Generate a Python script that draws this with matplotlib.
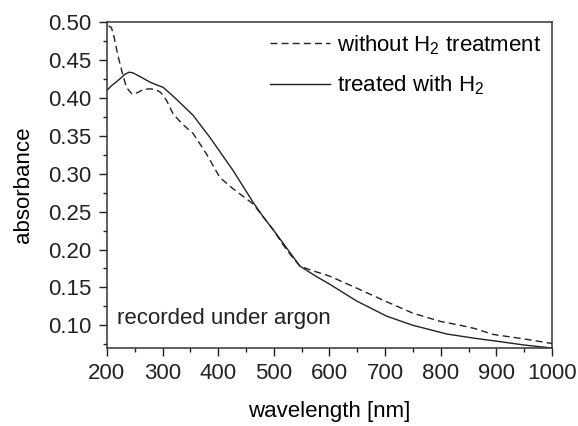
import matplotlib
matplotlib.use("Agg")
import matplotlib.pyplot as plt
from matplotlib.ticker import MultipleLocator

plt.rcParams["font.family"] = ["Liberation Sans", "DejaVu Sans"]
plt.rcParams["mathtext.fontset"] = "custom"
plt.rcParams["mathtext.rm"] = "Liberation Sans"
plt.rcParams["mathtext.it"] = "Liberation Sans"

# absorbance spectra
wl_untreated = [203, 208, 213, 220, 228, 235, 245, 255, 265, 277, 288, 297, 307,
                319, 335, 355, 379, 403, 427, 445, 463, 481, 500, 515, 530, 547,
                570, 600, 649, 700, 750, 800, 829, 860, 894, 950, 1000]
abs_untreated = [0.495, 0.493, 0.480, 0.455, 0.432, 0.414, 0.405, 0.407, 0.411,
                 0.412, 0.411, 0.407, 0.397, 0.379, 0.366, 0.353, 0.326, 0.295,
                 0.280, 0.270, 0.260, 0.243, 0.225, 0.208, 0.193, 0.178, 0.172,
                 0.165, 0.149, 0.132, 0.116, 0.105, 0.101, 0.096, 0.088, 0.082,
                 0.076]

wl_treated = [200, 208, 215, 223, 232, 240, 247, 260, 277, 290, 301, 315, 331,
              355, 385, 427, 463, 481, 500, 520, 547, 575, 601, 649, 703, 750,
              811, 860, 901, 950, 1000]
abs_treated = [0.410, 0.416, 0.420, 0.425, 0.431, 0.434, 0.433, 0.428, 0.421,
               0.417, 0.414, 0.405, 0.394, 0.377, 0.348, 0.304, 0.262, 0.243,
               0.225, 0.205, 0.178, 0.165, 0.154, 0.132, 0.112, 0.100, 0.0885,
               0.083, 0.079, 0.074, 0.070]

FS = 16

fig = plt.figure(figsize=(5.78, 4.26), dpi=100)
ax = fig.add_axes([0.185, 0.183, 0.770, 0.765])

ax.plot(wl_untreated, abs_untreated, color="#222222", lw=1.0,
        dashes=(5, 3), label="without H$_2$ treatment")
ax.plot(wl_treated, abs_treated, color="#222222", lw=1.0,
        label="treated with H$_2$")

ax.set_xlim(200, 1000)
ax.set_ylim(0.07, 0.50)
ax.xaxis.set_major_locator(MultipleLocator(100))
ax.xaxis.set_minor_locator(MultipleLocator(50))
ax.yaxis.set_major_locator(MultipleLocator(0.05))
ax.yaxis.set_minor_locator(MultipleLocator(0.025))
ax.yaxis.set_major_formatter(lambda v, p: f"{v:.2f}")

ax.tick_params(which="both", direction="out", labelsize=FS, colors="#222222")
ax.tick_params(which="major", length=6, width=1.0, pad=5)
ax.tick_params(which="minor", length=3, width=1.0)
for s in ax.spines.values():
    s.set_linewidth(1.1)
    s.set_color("#333333")

ax.set_xlabel("wavelength [nm]", fontsize=FS, labelpad=12)
ax.set_ylabel("absorbance", fontsize=FS, labelpad=10)

ax.legend(loc="upper right", frameon=False, fontsize=FS, handlelength=2.7,
          handletextpad=0.3, labelspacing=0.75, borderaxespad=0.3,
          borderpad=0.2, bbox_to_anchor=(1.0, 1.0))

ax.text(0.022, 0.09, "recorded under argon", transform=ax.transAxes,
        fontsize=FS, va="center", ha="left", color="#222222")

fig.savefig("out.png", dpi=100)
